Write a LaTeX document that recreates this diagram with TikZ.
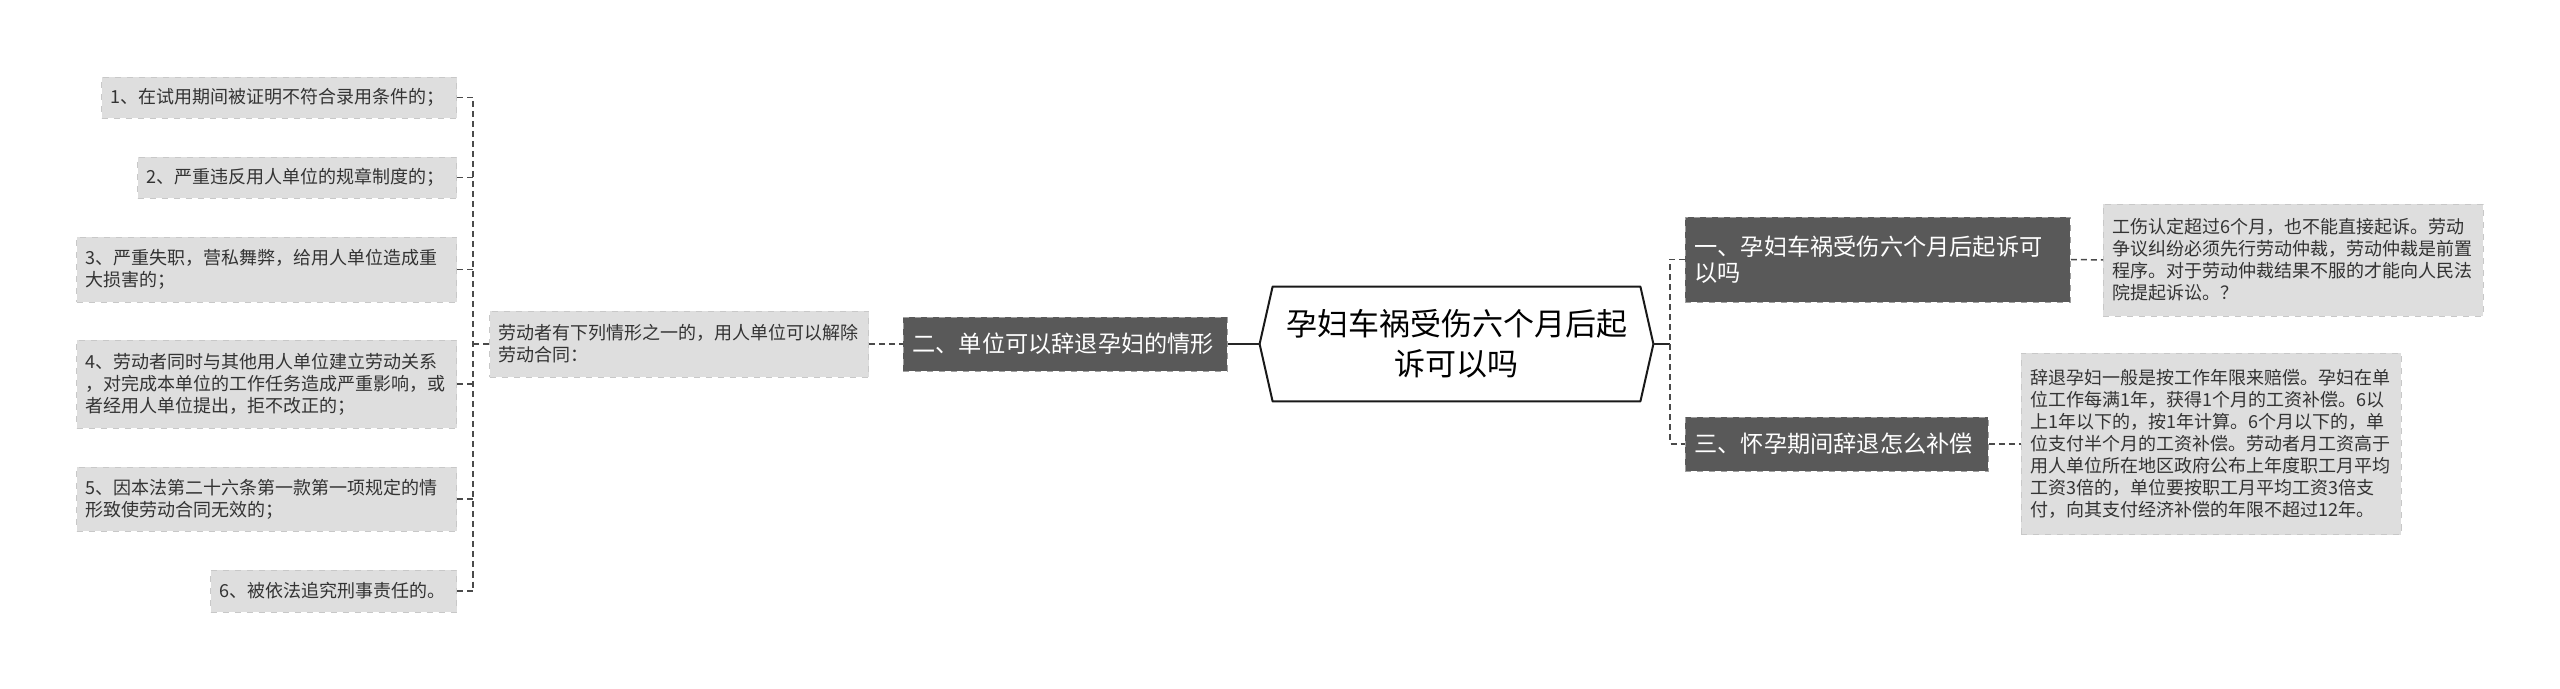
\documentclass[tikz,border=0pt]{standalone}
\usepackage{fontspec}
\setmainfont{Noto Sans CJK SC}
\usetikzlibrary{calc}

\definecolor{leafgray}{HTML}{DEDEDE}
\definecolor{leafline}{HTML}{C8C8C8}
\definecolor{topicgray}{HTML}{595959}
\definecolor{linkgray}{HTML}{4A4A4A}

\tikzstyle{leaf}=[fill=leafgray, draw=leafline, dashed, text=black!80, align=left, inner xsep=4.5pt, inner ysep=0pt, font=\fontsize{9}{11}\selectfont]
\tikzstyle{topic}=[fill=topicgray, draw=gray!75, dashed, text=white, align=left, inner xsep=4.5pt, inner ysep=0pt, font=\fontsize{11.6}{13}\selectfont]
\tikzstyle{link}=[linkgray, line width=0.75pt, dash pattern=on 3pt off 2pt]
\tikzstyle{solidlink}=[black!85, line width=0.9pt]

\begin{document}
\begin{tikzpicture}[x=0.5pt, y=-0.5pt]
      \useasboundingbox (0,0) rectangle (2560,689);

      % centre
      \node[align=center, minimum width=196.5pt, minimum height=57pt, inner sep=0pt, font=\fontsize{15.5}{20}\selectfont] (hub) at (1456.5,344) {孕妇车祸受伤六个月后起\\诉可以吗};
      \draw[black!90, line width=1pt, line join=round] (hub.west) -- ($(hub.north west)+(13,0)$) -- ($(hub.north east)+(-13,0)$) -- (hub.east) -- ($(hub.south east)+(-13,0)$) -- ($(hub.south west)+(13,0)$) -- cycle;

      % left side
      \node[topic, anchor=west, text width=153pt, minimum height=27pt] (t2) at (903,344) {二、单位可以辞退孕妇的情形};
      \node[leaf, anchor=east, text width=180.5pt, minimum height=33pt] (cond) at (869,344) {劳动者有下列情形之一的，用人单位可以解除\\劳动合同：};

      \node[leaf, anchor=east, text width=168.5pt, minimum height=20.5pt] (l1) at (457,97.5) {1、在试用期间被证明不符合录用条件的；};
      \node[leaf, anchor=east, text width=150.5pt, minimum height=20.5pt] (l2) at (457,177.5) {2、严重违反用人单位的规章制度的；};
      \node[leaf, anchor=east, text width=181pt, minimum height=32.5pt] (l3) at (457,269.5) {3、严重失职，营私舞弊，给用人单位造成重\\大损害的；};
      \node[leaf, anchor=east, text width=181pt, minimum height=44pt] (l4) at (457,384) {4、劳动者同时与其他用人单位建立劳动关系\\，对完成本单位的工作任务造成严重影响，或\\者经用人单位提出，拒不改正的；};
      \node[leaf, anchor=east, text width=181pt, minimum height=32pt] (l5) at (457,499) {5、因本法第二十六条第一款第一项规定的情\\形致使劳动合同无效的；};
      \node[leaf, anchor=east, text width=114pt, minimum height=21pt] (l6) at (457,591) {6、被依法追究刑事责任的。};

      \coordinate (lbus) at (473,344);

      % right side
      \node[topic, anchor=west, text width=183.5pt, minimum height=42.5pt] (t1) at (1685,259.5) {一、孕妇车祸受伤六个月后起诉可\\以吗};
      \node[topic, anchor=west, text width=142.5pt, minimum height=27pt] (t3) at (1685,444) {三、怀孕期间辞退怎么补偿};

      \node[leaf, anchor=west, text width=181pt, minimum height=56pt] (r1) at (2103,260) {工伤认定超过6个月，也不能直接起诉。劳动\\争议纠纷必须先行劳动仲裁，劳动仲裁是前置\\程序。对于劳动仲裁结果不服的才能向人民法\\院提起诉讼。？};
      \node[leaf, anchor=west, text width=181pt, minimum height=90.5pt] (r3) at (2021,444) {辞退孕妇一般是按工作年限来赔偿。孕妇在单\\位工作每满1年，获得1个月的工资补偿。6以\\上1年以下的，按1年计算。6个月以下的，单\\位支付半个月的工资补偿。劳动者月工资高于\\用人单位所在地区政府公布上年度职工月平均\\工资3倍的，单位要按职工月平均工资3倍支\\付，向其支付经济补偿的年限不超过12年。};

      \coordinate (rbus) at (1670,344);

      % connectors
      \draw[solidlink] (t2.east) -- (hub.west);
      \draw[solidlink] (hub.east) -- (rbus);
      \draw[link] (cond.east) -- (t2.west);
      \draw[link] (cond.west) -- (lbus);
      \draw[link] (l1.east) -| (lbus) |- (l6.east);
      \draw[link] (l2.east) -- (l2.east -| lbus);
      \draw[link] (l3.east) -- (l3.east -| lbus);
      \draw[link] (l4.east) -- (l4.east -| lbus);
      \draw[link] (l5.east) -- (l5.east -| lbus);
      \draw[link] (t1.west) -| (rbus) |- (t3.west);
      \draw[link] (t1.east) -- (r1.west);
      \draw[link] (t3.east) -- (r3.west);
    \end{tikzpicture}
\end{document}
